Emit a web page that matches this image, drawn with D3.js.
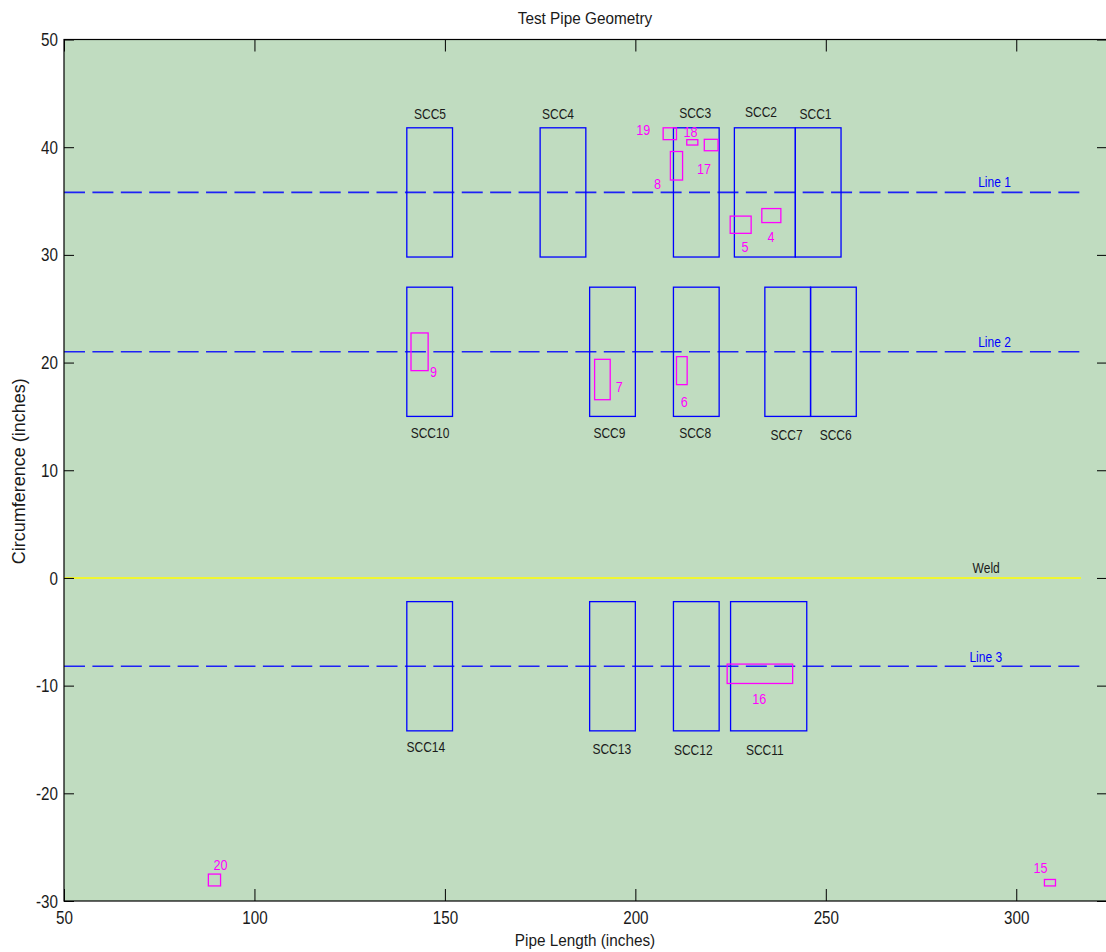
<!DOCTYPE html>
<html>
<head>
<meta charset="utf-8">
<script src="https://cdn.jsdelivr.net/npm/d3@7"></script>
<style>
  html, body { margin: 0; padding: 0; background: #ffffff; }
  svg text { font-family: "Liberation Sans", Arial, Helvetica, sans-serif; }
</style>
</head>
<body>
<svg id="chart" width="1106" height="952"></svg>
<script>
// ---------- data ----------
const xTicks = [50, 100, 150, 200, 250, 300];
const yTicks = [-30, -20, -10, 0, 10, 20, 30, 40, 50];

const lineNames = ["Line 1", "Line 2", "Line 3"];
const lineY = [35.8, 21.0, -8.2];
const lineXStart = 50;
const lineXEnd = 317;
const lineLabelX = [294.3, 294.3, 292.0];
const lineLabelY = [36.77, 22.0, -7.31];

const weldName = "Weld";
const weldY = 0;
const weldLabelX = 292.1;
const weldLabelY = 0.96;

const sccNames = ["SCC1","SCC2","SCC3","SCC4","SCC5","SCC6","SCC7","SCC8","SCC9","SCC10","SCC11","SCC12","SCC13","SCC14"];
const sccXStart = [242, 226, 210, 175, 140, 246, 234, 210, 188, 140, 225, 210, 188, 140];
const sccXEnd   = [254, 242, 222, 187, 152, 258, 246, 222, 200, 152, 245, 222, 200, 152];
const sccYLow   = [29.8, 29.8, 29.8, 29.8, 29.8, 15, 15, 15, 15, 15, -14.2, -14.2, -14.2, -14.2];
const sccYHigh  = [41.8, 41.8, 41.8, 41.8, 41.8, 27, 27, 27, 27, 27, -2.2, -2.2, -2.2, -2.2];
const sccLabelX = [247.3, 233.0, 215.7, 179.7, 146.1, 252.6, 239.7, 215.7, 193.2, 146.1, 234.0, 215.2, 193.8, 145.0];
const sccLabelY = [43.1, 43.3, 43.2, 43.1, 43.1, 13.35, 13.35, 13.5, 13.5, 13.5, -15.97, -15.97, -15.8, -15.66];

const defectNames = ["4","5","6","7","8","9","15","16","17","18","19","20"];
const defectXStart = [233.2, 224.9, 210.8, 189.3, 209.2, 141.1, 307.4, 224.1, 218.1, 213.5, 207.3, 87.9];
const defectXEnd   = [238.2, 230.4, 213.6, 193.4, 212.4, 145.6, 310.3, 241.3, 221.7, 216.4, 210.8, 91.1];
const defectYLow   = [33.0, 32.0, 17.95, 16.55, 36.95, 19.25, -28.6, -9.8, 39.67, 40.2, 40.7, -28.6];
const defectYHigh  = [34.3, 33.6, 20.55, 20.3, 39.6, 22.75, -28.0, -8.0, 40.73, 40.7, 41.8, -27.5];
const defectLabelX = [235.6, 228.8, 212.85, 195.8, 205.8, 147.0, 306.4, 232.5, 218.0, 214.5, 202.1, 91.1];
const defectLabelY = [31.75, 30.76, 16.37, 17.76, 36.65, 19.15, -26.86, -11.17, 38.04, 41.44, 41.66, -26.65];

const titleText = "Test Pipe Geometry";
const xLabelText = "Pipe Length (inches)";
const yLabelText = "Circumference (inches)";

// ---------- layout ----------
const pLeft = 64, pRight = 1107, pTop = 39.5, pBottom = 901;
const x = d3.scaleLinear().domain([50, 50 + (pRight - pLeft) / 3.809]).range([pLeft, pRight]);
const y = d3.scaleLinear().domain([-30, 50]).range([pBottom, pTop]);

const svg = d3.select("#chart");

// narrow-font emulation: compress glyphs horizontally
function narrow(sel, factor) {
  sel.each(function () {
    const len = this.getComputedTextLength();
    d3.select(this).attr("textLength", len * factor).attr("lengthAdjust", "spacingAndGlyphs");
  });
}

// plot background
svg.append("rect")
  .attr("x", pLeft).attr("y", pTop)
  .attr("width", pRight - pLeft).attr("height", pBottom - pTop)
  .attr("fill", "#c0dcc0");

const plot = svg.append("g");

// weld line
plot.append("line")
  .attr("x1", x(lineXStart)).attr("x2", x(lineXEnd))
  .attr("y1", y(weldY)).attr("y2", y(weldY))
  .attr("stroke", "#ffff00").attr("stroke-width", 1.6);

// dashed scan lines
lineY.forEach((v) => {
  plot.append("line")
    .attr("x1", x(lineXStart)).attr("x2", x(lineXEnd))
    .attr("y1", y(v)).attr("y2", y(v))
    .attr("stroke", "#0000ff").attr("stroke-width", 1.6)
    .attr("stroke-opacity", 0.85)
    .attr("stroke-dasharray", "21,7.41");
});

// SCC boxes
sccNames.forEach((n, i) => {
  plot.append("rect")
    .attr("x", x(sccXStart[i])).attr("y", y(sccYHigh[i]))
    .attr("width", x(sccXEnd[i]) - x(sccXStart[i]))
    .attr("height", y(sccYLow[i]) - y(sccYHigh[i]))
    .attr("fill", "none").attr("stroke", "#0000ff").attr("stroke-width", 1.3);
  plot.append("text")
    .attr("x", x(sccLabelX[i])).attr("y", y(sccLabelY[i]))
    .attr("text-anchor", "middle").attr("dominant-baseline", "central")
    .attr("font-size", 15).attr("fill", "#1a1a1a")
    .text(n)
    .call(narrow, 0.8);
});

// defect boxes
defectNames.forEach((n, i) => {
  plot.append("rect")
    .attr("x", x(defectXStart[i])).attr("y", y(defectYHigh[i]))
    .attr("width", x(defectXEnd[i]) - x(defectXStart[i]))
    .attr("height", y(defectYLow[i]) - y(defectYHigh[i]))
    .attr("fill", "none").attr("stroke", "#ff00ff").attr("stroke-width", 1.3);
  plot.append("text")
    .attr("x", x(defectLabelX[i])).attr("y", y(defectLabelY[i]))
    .attr("text-anchor", "middle").attr("dominant-baseline", "central")
    .attr("font-size", 15).attr("fill", "#ff00ff")
    .text(n)
    .call(narrow, 0.84);
});

// line labels
lineNames.forEach((n, i) => {
  plot.append("text")
    .attr("x", x(lineLabelX[i])).attr("y", y(lineLabelY[i]))
    .attr("text-anchor", "middle").attr("dominant-baseline", "central")
    .attr("font-size", 15).attr("fill", "#0000ff")
    .text(n)
    .call(narrow, 0.8);
});
plot.append("text")
  .attr("x", x(weldLabelX)).attr("y", y(weldLabelY))
  .attr("text-anchor", "middle").attr("dominant-baseline", "central")
  .attr("font-size", 15).attr("fill", "#1a1a1a")
  .text(weldName)
  .call(narrow, 0.8);

// ---------- axes ----------
const axisColor = "#000000";
function styleAxis(g, showLabels) {
  g.select(".domain").remove();
  g.selectAll(".tick line").attr("stroke", axisColor).attr("stroke-width", 1);
  g.selectAll(".tick text")
    .attr("fill", "#1a1a1a")
    .attr("font-size", 19)
    .style("font-family", '"Liberation Sans", Arial, sans-serif');
  if (!showLabels) g.selectAll(".tick text").remove();
  else g.selectAll(".tick text").call(narrow, 0.8);
}
const fmt = d => String(d);

svg.append("g").attr("transform", `translate(0,${pBottom})`)
  .call(d3.axisBottom(x).tickValues(xTicks).tickFormat(fmt).tickSizeInner(-12).tickSizeOuter(0).tickPadding(10))
  .call(g => styleAxis(g, true));
svg.append("g").attr("transform", `translate(0,${pTop})`)
  .call(d3.axisTop(x).tickValues(xTicks).tickSizeInner(-12).tickSizeOuter(0))
  .call(g => styleAxis(g, false));
svg.append("g").attr("transform", `translate(${pLeft},0)`)
  .call(d3.axisLeft(y).tickValues(yTicks).tickFormat(fmt).tickSizeInner(-10).tickSizeOuter(0).tickPadding(6))
  .call(g => styleAxis(g, true));
svg.append("g").attr("transform", `translate(${pRight},0)`)
  .call(d3.axisRight(y).tickValues(yTicks).tickSizeInner(-10).tickSizeOuter(0))
  .call(g => styleAxis(g, false));

// axes box
svg.append("rect")
  .attr("x", pLeft).attr("y", pTop)
  .attr("width", pRight - pLeft).attr("height", pBottom - pTop)
  .attr("fill", "none").attr("stroke", axisColor).attr("stroke-width", 1.2);

// titles
svg.append("text")
  .attr("x", (pLeft + 1106) / 2).attr("y", 18)
  .attr("text-anchor", "middle").attr("dominant-baseline", "central")
  .attr("font-size", 17).attr("fill", "#1a1a1a")
  .text(titleText)
  .call(narrow, 0.9);
svg.append("text")
  .attr("x", (pLeft + 1106) / 2).attr("y", 940)
  .attr("text-anchor", "middle").attr("dominant-baseline", "central")
  .attr("font-size", 17).attr("fill", "#1a1a1a")
  .text(xLabelText)
  .call(narrow, 0.9);
svg.append("text")
  .attr("transform", `translate(19,${(pTop + pBottom) / 2 + 1}) rotate(-90)`)
  .attr("text-anchor", "middle").attr("dominant-baseline", "central")
  .attr("font-size", 18).attr("fill", "#1a1a1a")
  .text(yLabelText);
</script>
</body>
</html>
